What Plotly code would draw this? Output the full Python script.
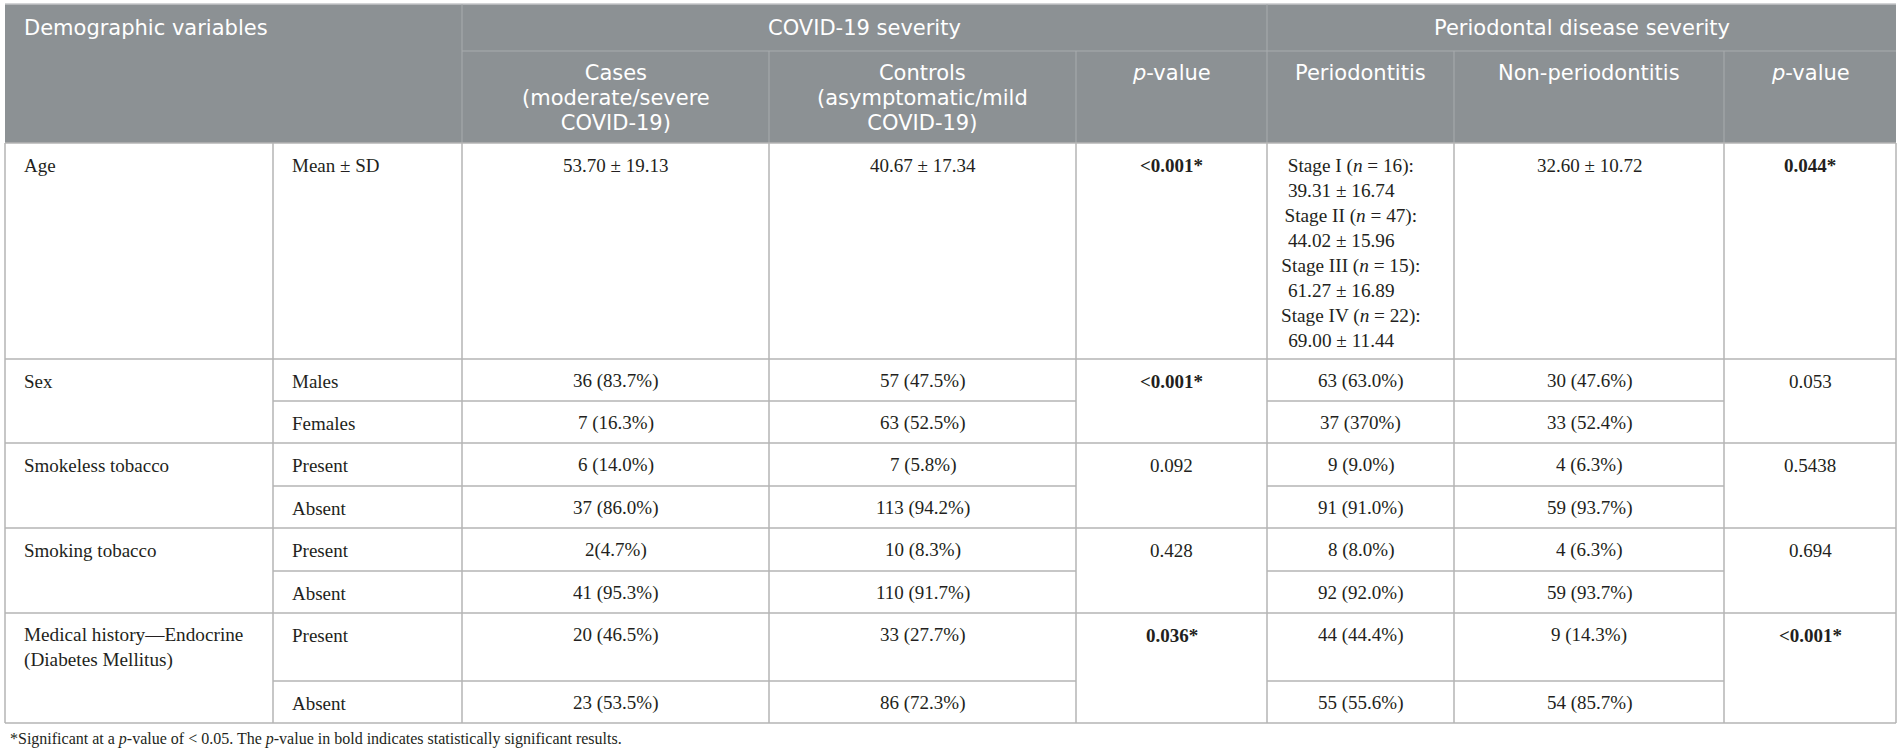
import plotly.graph_objects as go

# table content
header_top = ["Demographic variables", "COVID-19 severity", "Periodontal disease severity"]
header_sub = ["Cases\n(moderate/severe\nCOVID-19)", "Controls\n(asymptomatic/mild\nCOVID-19)", "<i>p</i>-value",
              "Periodontitis", "Non-periodontitis", "<i>p</i>-value"]

groups = ["Age", "Sex", "Smokeless tobacco", "Smoking tobacco", "Medical history—Endocrine\n(Diabetes Mellitus)"]
levels = [["Mean ± SD"], ["Males", "Females"], ["Present", "Absent"], ["Present", "Absent"], ["Present", "Absent"]]

cases = ["53.70 ± 19.13", "36 (83.7%)", "7 (16.3%)", "6 (14.0%)", "37 (86.0%)",
         "2(4.7%)", "41 (95.3%)", "20 (46.5%)", "23 (53.5%)"]
controls = ["40.67 ± 17.34", "57 (47.5%)", "63 (52.5%)", "7 (5.8%)", "113 (94.2%)",
            "10 (8.3%)", "110 (91.7%)", "33 (27.7%)", "86 (72.3%)"]
p_covid = ["&lt;0.001*", "&lt;0.001*", "0.092", "0.428", "0.036*"]

stages = ["I", "II", "III", "IV"]
stage_n = [16, 47, 15, 22]
stage_age = ["39.31 ± 16.74", "44.02 ± 15.96", "61.27 ± 16.89", "69.00 ± 11.44"]
perio = ["", "63 (63.0%)", "37 (370%)", "9 (9.0%)", "91 (91.0%)",
         "8 (8.0%)", "92 (92.0%)", "44 (44.4%)", "55 (55.6%)"]
nonperio = ["32.60 ± 10.72", "30 (47.6%)", "33 (52.4%)", "4 (6.3%)", "59 (93.7%)",
            "4 (6.3%)", "59 (93.7%)", "9 (14.3%)", "54 (85.7%)"]
p_perio = ["0.044*", "0.053", "0.5438", "0.694", "&lt;0.001*"]

footnote = ("*Significant at a <i>p</i>-value of &lt; 0.05. "
            "The <i>p</i>-value in bold indicates statistically significant results.")

# layout of the grid (pixels)
W, H = 1902, 756
col_x = [5, 273, 462, 769, 1076, 1267, 1454, 1724, 1896]
head_y = [4, 51, 143]
row_y = [143, 359, 401, 443, 486, 528, 571, 613, 681, 723]
pad_x, pad_y, step = 18, 22, 25

SERIF = "Liberation Serif"
SANS = "DejaVu Sans"
HEAD_SIZE = 21
HEAD_BG = "#8c9194"
HEAD_LINE = "#a8acae"
GRID = "#b4b4b4"
INK = "#231f20"

shapes = []
ann = []


def line(x0, y0, x1, y1, color=GRID, w=1.5):
    shapes.append(dict(type="line", xref="x", yref="y", x0=x0, y0=y0, x1=x1, y1=y1,
                       line=dict(color=color, width=w), layer="above"))


def put(x, y, text, anchor="center", size=19, family=SERIF, color=INK):
    # y is the centre of the first line; extra lines are spaced by `step`
    lines = text.split("\n")
    if len(lines) == 1:
        txt, fs = text, size
    else:
        fs = step / 1.3   # plotly line spacing is 1.3em of the base size
        if abs(fs - size) > 0.3:
            lines = ['<span style="font-size:%gpx">%s</span>' % (size, t) for t in lines]
        txt = "<br>".join(lines)
        y = y + (len(lines) - 1) * step / 2
    ann.append(dict(x=x, y=y, xref="x", yref="y", text=txt, showarrow=False,
                    xanchor=anchor, yanchor="middle", align=anchor, borderpad=0,
                    font=dict(family=family, size=fs, color=color)))


def mid(c):
    return (col_x[c] + col_x[c + 1]) / 2


def pval(s):
    return "<b>" + s + "</b>" if s.endswith("*") else s


# header block
shapes.append(dict(type="rect", xref="x", yref="y", x0=col_x[0], x1=col_x[-1], y0=head_y[0], y1=head_y[2],
                   fillcolor=HEAD_BG, line=dict(width=0), layer="below"))
line(col_x[0], head_y[0], col_x[-1], head_y[0], "#c4c6c8", 1.5)
line(col_x[2], head_y[1], col_x[-1], head_y[1], HEAD_LINE, 1)
for c in (2, 5):
    line(col_x[c], head_y[0], col_x[c], head_y[2], HEAD_LINE, 1)
for c in (3, 4, 6, 7):
    line(col_x[c], head_y[1], col_x[c], head_y[2], HEAD_LINE, 1)

hy = (head_y[0] + head_y[1]) / 2
put(col_x[0] + pad_x, hy, header_top[0], "left", HEAD_SIZE, SANS, "white")
put((col_x[2] + col_x[5]) / 2, hy, header_top[1], "center", HEAD_SIZE, SANS, "white")
put((col_x[5] + col_x[8]) / 2, hy, header_top[2], "center", HEAD_SIZE, SANS, "white")
for i, t in enumerate(header_sub):
    put(mid(i + 2), head_y[1] + pad_y, t, "center", HEAD_SIZE, SANS, "white")

# body grid
for c in col_x:
    line(c, row_y[0], c, row_y[-1])
r = 0
for g, lv in enumerate(levels):
    top = row_y[r]
    line(col_x[0], top, col_x[-1], top)
    put(col_x[0] + pad_x, top + pad_y, groups[g], "left")
    put(mid(4), top + pad_y, pval(p_covid[g]))
    put(mid(7), top + pad_y, pval(p_perio[g]))
    for k, name in enumerate(lv):
        y = row_y[r]
        if k > 0:
            line(col_x[1], y, col_x[4], y)
            line(col_x[5], y, col_x[7], y)
        put(col_x[1] + pad_x, y + pad_y, name, "left")
        put(mid(2), y + pad_y, cases[r])
        put(mid(3), y + pad_y, controls[r])
        put(mid(6), y + pad_y, nonperio[r])
        if perio[r]:
            put(mid(5), y + pad_y, perio[r])
        r += 1
line(col_x[0], row_y[-1], col_x[-1], row_y[-1])

# stage breakdown of periodontitis ages
stage_lines = []
for s, n, a in zip(stages, stage_n, stage_age):
    stage_lines.append("Stage %s (<i>n</i> = %d):" % (s, n))
    stage_lines.append(a + "\u00a0\u00a0\u00a0\u00a0")
put(mid(5) - 10, row_y[0] + pad_y, "\n".join(stage_lines))

put(col_x[0] + 4, 739, footnote, "left", 16)

fig = go.Figure()
fig.update_layout(
    width=W, height=H, margin=dict(l=0, r=0, t=0, b=0),
    paper_bgcolor="white", plot_bgcolor="white",
    xaxis=dict(range=[0, W], visible=False, fixedrange=True),
    yaxis=dict(range=[H, 0], visible=False, fixedrange=True),
    shapes=shapes, annotations=ann, showlegend=False,
)
fig.write_html("out.html", config={"displayModeBar": False},
               post_script="document.body.style.margin='0';document.body.style.overflow='hidden';")
